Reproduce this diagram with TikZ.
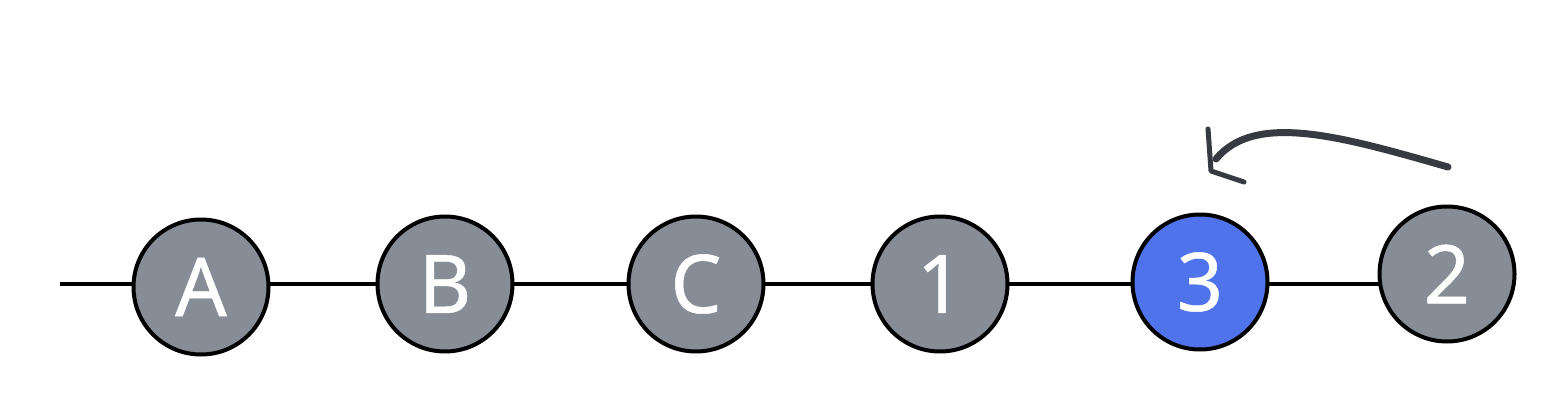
\documentclass[tikz,border=0pt]{standalone}
\usepackage{fontspec}
\setmainfont{Noto Sans}[FakeBold=0.6]
\definecolor{nodegray}{HTML}{878D96}
\definecolor{nodeblue}{HTML}{4F73EA}
\definecolor{arrowdark}{HTML}{373A40}
\begin{document}
\begin{tikzpicture}[x=1pt,y=-1pt,
  commit/.style={circle,draw=black,line width=4pt,fill=nodegray,minimum size=135pt,inner sep=0pt,
    text=white,font=\fontsize{81}{81}\selectfont},
  current/.style={commit,fill=nodeblue},
  link/.style={line width=3.6pt,draw=black},
  sketch/.style={line width=7pt,draw=arrowdark,line cap=round,line join=round}]
\useasboundingbox (0,0) rectangle (1566,404);
\coordinate (start) at (60,284);
\draw[link] (start) -- (1447,284);
\node[commit] (A) at (201,287) {A};
\node[commit] (B) at (445,284) {B};
\node[commit] (C) at (696,284) {C};
\node[commit] (n1) at (940,284) {1};
\node[current] (n3) at (1200,282) {3};
\node[commit] (n2) at (1447,274) {2};
\coordinate (aS) at (1448,167);
\coordinate (aE) at (1216,159);
\coordinate (hA) at (1208,129);
\coordinate (hC) at (1211,171);
\coordinate (hB) at (1244,182);
\draw[sketch] (aS) .. controls (1340,136) and (1255,112) .. (aE);
\draw[sketch,line width=5pt] (hA) -- (hC) -- (hB);
\end{tikzpicture}
\end{document}
